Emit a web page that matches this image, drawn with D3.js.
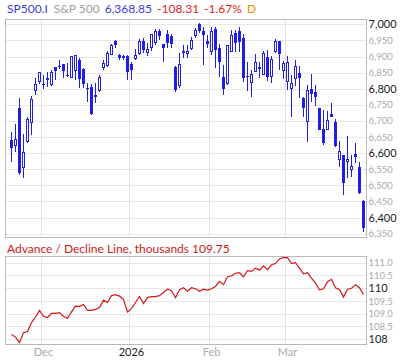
<!DOCTYPE html>
<html>
<head>
<meta charset="utf-8">
<script src="https://cdn.jsdelivr.net/npm/d3@7"></script>
<style>
  body { margin: 0; background: #fff; }
  svg { font-family: Lato, "Open Sans", sans-serif; }
</style>
</head>
<body>
<div id="chart"></div>
<script>
// trading days by month
const novDays = [18, 19, 20, 21, 24, 25, 26, 28];
const decDays = [1, 2, 3, 4, 5, 8, 9, 10, 11, 12, 15, 16, 17, 18, 19, 22, 23, 24, 26, 29, 30, 31];
const janDays = [2, 5, 6, 7, 8, 9, 12, 13, 14, 15, 16, 20, 21, 22, 23, 26, 27, 28, 29, 30];
const febDays = [2, 3, 4, 5, 6, 9, 10, 11, 12, 13, 17, 18, 19, 20, 23, 24, 25, 26, 27];
const marDays = [2, 3, 4, 5, 6, 9, 10, 11, 12, 13, 16, 17, 18, 19, 20, 23, 24, 25, 26, 27];

const open = [6641, 6623, 6739, 6556, 6636, 6696, 6794, 6821, 6815, 6832, 6814, 6866, 6870, 6876, 6842, 6834, 6858, 6889, 6860, 6802,
  6804, 6780, 6793, 6866, 6871, 6906, 6947, 6906, 6902, 6902, 6878, 6894, 6908, 6947, 6914, 6928, 6943, 6978, 6938, 6971,
  6964, 6868, 6809, 6916, 6908, 6925, 6966, 7002, 6978, 6947, 6916, 6987, 6925, 6837, 6816, 6916, 6974, 6978, 6959, 6838,
  6820, 6855, 6864, 6844, 6899, 6839, 6916, 6947, 6858, 6824, 6801, 6832, 6850, 6770, 6698, 6798, 6790, 6739, 6674, 6674,
  6721, 6697, 6581, 6594, 6574, 6550, 6598, 6558, 6452];
const high = [6667, 6690, 6770, 6660, 6713, 6777, 6832, 6852, 6842, 6851, 6858, 6868, 6889, 6878, 6879, 6902, 6906, 6894, 6863, 6818,
  6814, 6817, 6842, 6889, 6916, 6940, 6950, 6909, 6906, 6906, 6883, 6922, 6953, 6958, 6943, 6971, 6984, 6985, 6940, 6981,
  6971, 6871, 6912, 6935, 6937, 6961, 6988, 7005, 6992, 6966, 6992, 6992, 6940, 6873, 6937, 6981, 6981, 6992, 6971, 6883,
  6858, 6909, 6883, 6916, 6920, 6901, 6953, 6948, 6886, 6901, 6842, 6889, 6870, 6775, 6811, 6845, 6811, 6740, 6734, 6732,
  6755, 6705, 6639, 6595, 6653, 6595, 6633, 6574, 6453];
const low = [6574, 6602, 6533, 6522, 6631, 6657, 6780, 6816, 6799, 6806, 6808, 6827, 6860, 6833, 6836, 6832, 6827, 6801, 6801, 6760,
  6718, 6756, 6790, 6858, 6868, 6904, 6925, 6889, 6889, 6827, 6827, 6889, 6904, 6912, 6902, 6917, 6935, 6950, 6883, 6925,
  6925, 6789, 6803, 6894, 6894, 6920, 6956, 6974, 6873, 6927, 6904, 6863, 6837, 6780, 6811, 6914, 6914, 6914, 6821, 6793,
  6775, 6854, 6832, 6842, 6825, 6817, 6912, 6858, 6829, 6796, 6711, 6808, 6770, 6711, 6636, 6760, 6746, 6671, 6625, 6672,
  6711, 6620, 6556, 6471, 6522, 6525, 6569, 6473, 6354];
const close = [6615, 6643, 6538, 6603, 6705, 6767, 6814, 6850, 6813, 6827, 6850, 6855, 6866, 6855, 6839, 6899, 6902, 6829, 6816, 6800,
  6721, 6773, 6835, 6878, 6909, 6935, 6935, 6894, 6896, 6852, 6858, 6904, 6947, 6920, 6923, 6968, 6978, 6964, 6927, 6943,
  6940, 6796, 6876, 6911, 6916, 6950, 6981, 6978, 6968, 6940, 6978, 6920, 6883, 6799, 6933, 6964, 6943, 6945, 6832, 6836,
  6844, 6881, 6866, 6909, 6837, 6891, 6947, 6909, 6878, 6880, 6816, 6870, 6832, 6739, 6796, 6783, 6775, 6672, 6631, 6700,
  6713, 6622, 6605, 6507, 6581, 6557, 6589, 6477, 6368.85];

// advance / decline line, thousands
const adLine = [108.18, 108.08, 107.87, 108.25, 108.30, 108.65, 108.86, 109.13, 108.90, 108.85,
  109.01, 109.01, 109.04, 108.90, 108.81, 109.07, 109.30, 109.29, 109.36, 109.13,
  109.13, 109.17, 109.24, 109.53, 109.44, 109.71, 109.75, 109.69, 109.56, 109.07,
  109.20, 109.44, 109.67, 109.40, 109.63, 109.67, 109.67, 109.71, 109.83, 109.96,
  109.90, 109.63, 109.94, 110.02, 109.88, 110.02, 109.98, 109.88, 109.96, 109.93,
  109.98, 110.07, 110.27, 110.14, 110.45, 110.48, 110.59, 110.61, 110.45, 110.69,
  110.66, 110.79, 110.71, 110.88, 110.73, 110.92, 110.97, 111.16, 111.20, 111.20,
  110.97, 111.00, 110.79, 110.57, 110.61, 110.40, 110.20, 109.94, 109.98, 110.26,
  110.35, 110.02, 109.94, 109.65, 109.96, 110.00, 110.14, 110.02, 109.75];

const priceTicks = [6350, 6400, 6450, 6500, 6550, 6600, 6650, 6700, 6750, 6800, 6850, 6900, 6950, 7000];
const priceMajor = [6400, 6600, 6800, 7000];
const adTicks = [108, 108.5, 109, 109.5, 110, 110.5, 111];
const adMajor = [108, 110];
const monthTicks = ["2025-12-01", "2026-01-02", "2026-02-02", "2026-03-02"];
const monthLabels = ["Dec", "2026", "Feb", "Mar"];

const pad = (n) => String(n).padStart(2, "0");
const dates = [
  ...novDays.map((d) => `2025-11-${pad(d)}`),
  ...decDays.map((d) => `2025-12-${pad(d)}`),
  ...janDays.map((d) => `2026-01-${pad(d)}`),
  ...febDays.map((d) => `2026-02-${pad(d)}`),
  ...marDays.map((d) => `2026-03-${pad(d)}`),
];
const candles = dates.map((date, i) => ({ date, o: open[i], h: high[i], l: low[i], c: close[i] }));

const width = 400;
const height = 362;
const left = 5.5, right = 366.5;
const top1 = 19.5, bottom1 = 237.5;
const top2 = 256.5, bottom2 = 344.5;
const blue = "#1e1ee6";
const red = "#d81818";

const svg = d3.select("#chart").append("svg")
  .attr("width", width)
  .attr("height", height);

const x = d3.scaleBand().domain(dates).range([9.5, 365.5]).padding(0);
const cx = (d) => x(d) + x.bandwidth() / 2;
const y = d3.scaleLinear().domain([6338, 7015]).range([bottom1, top1]);
const y2 = d3.scaleLinear().domain([107.79, 111.246]).range([bottom2, top2]);

// header
const head = svg.append("text").attr("x", 7).attr("y", 13).style("font-size", "12px");
head.append("tspan").attr("fill", "#3a3ad6").text("SP500.I");
head.append("tspan").attr("dx", 6).attr("fill", "#a0a0a0").text("S&P 500");
head.append("tspan").attr("dx", 5).attr("fill", "#3a3ad6").text(d3.format(",.2f")(close[close.length - 1]));
head.append("tspan").attr("dx", 5).attr("fill", "#e02222").text("-108.31");
head.append("tspan").attr("dx", 5).attr("fill", "#e02222").text("-1.67%");
head.append("tspan").attr("dx", 5).attr("fill", "#f08a00").text("D");

// grids
function grid(yScale, ticks, y0, y1) {
  svg.append("g").attr("stroke", "#e8e8e8").attr("shape-rendering", "crispEdges")
    .selectAll("line").data(ticks).join("line")
    .attr("x1", left).attr("x2", right)
    .attr("y1", (d) => Math.round(yScale(d)) + 0.5)
    .attr("y2", (d) => Math.round(yScale(d)) + 0.5);
  svg.append("g").attr("stroke", "#e4e4e4").attr("shape-rendering", "crispEdges")
    .selectAll("line").data(monthTicks).join("line")
    .attr("x1", (d) => x(d)).attr("x2", (d) => x(d))
    .attr("y1", y0).attr("y2", y1);
  svg.append("rect")
    .attr("x", left).attr("y", y0).attr("width", right - left).attr("height", y1 - y0)
    .attr("fill", "none").attr("stroke", "#b8b8b8").attr("shape-rendering", "crispEdges");
}
grid(y, priceTicks, top1, bottom1);
grid(y2, adTicks, top2, bottom2);

// right axes
function rightAxis(yScale, ticks, major, fmtMajor, fmtMinor) {
  svg.append("g")
    .attr("transform", `translate(${right - 1},0)`)
    .call(d3.axisRight(yScale).tickValues(ticks).tickSize(0).tickPadding(3)
      .tickFormat((d) => (major.includes(d) ? fmtMajor(d) : fmtMinor(d))))
    .call((g) => g.select(".domain").remove())
    .selectAll("text")
    .attr("fill", (d) => (major.includes(d) ? "#222" : "#aaa"))
    .style("font-family", "Lato, sans-serif")
    .style("font-size", (d) => (major.includes(d) ? "11px" : "9.5px"));
}
rightAxis(y, priceTicks, priceMajor, d3.format(","), d3.format(","));
rightAxis(y2, adTicks, adMajor, d3.format("d"), d3.format(".1f"));

// candles
const g = svg.append("g").attr("shape-rendering", "crispEdges");
g.selectAll("line").data(candles).join("line")
  .attr("x1", (d) => cx(d.date)).attr("x2", (d) => cx(d.date))
  .attr("y1", (d) => y(d.h)).attr("y2", (d) => y(d.l))
  .attr("stroke", blue);
g.selectAll("rect.down").data(candles.filter((d) => d.c < d.o)).join("rect")
  .attr("class", "down")
  .attr("x", (d) => cx(d.date) - 1.5).attr("width", 3)
  .attr("y", (d) => y(d.o))
  .attr("height", (d) => Math.max(1, y(d.c) - y(d.o)))
  .attr("fill", blue);
g.selectAll("rect.up").data(candles.filter((d) => d.c >= d.o)).join("rect")
  .attr("class", "up")
  .attr("x", (d) => cx(d.date) - 1).attr("width", 2)
  .attr("y", (d) => y(d.c))
  .attr("height", (d) => Math.max(1, y(d.o) - y(d.c)))
  .attr("fill", "#fff").attr("stroke", blue);

// advance / decline
svg.append("text").attr("x", 7).attr("y", 253)
  .attr("fill", "#d01818").style("font-size", "12px")
  .text(`Advance / Decline Line, thousands ${adLine[adLine.length - 1]}`);

svg.append("path")
  .datum(adLine)
  .attr("fill", "none")
  .attr("stroke", red)
  .attr("stroke-width", 1.2)
  .attr("d", d3.line().x((d, i) => cx(dates[i])).y((d) => y2(d)));

// x axis
svg.append("g")
  .attr("transform", `translate(0,${bottom2})`)
  .call(d3.axisBottom(x).tickValues(monthTicks).offset(2).tickSize(0).tickPadding(4)
    .tickFormat((d, i) => monthLabels[i]))
  .call((g) => g.select(".domain").remove())
  .selectAll("text")
  .attr("fill", (d, i) => (i === 1 ? "#222" : "#aaa"))
  .style("font-family", "Lato, sans-serif")
  .style("font-size", "11px");
</script>
</body>
</html>
